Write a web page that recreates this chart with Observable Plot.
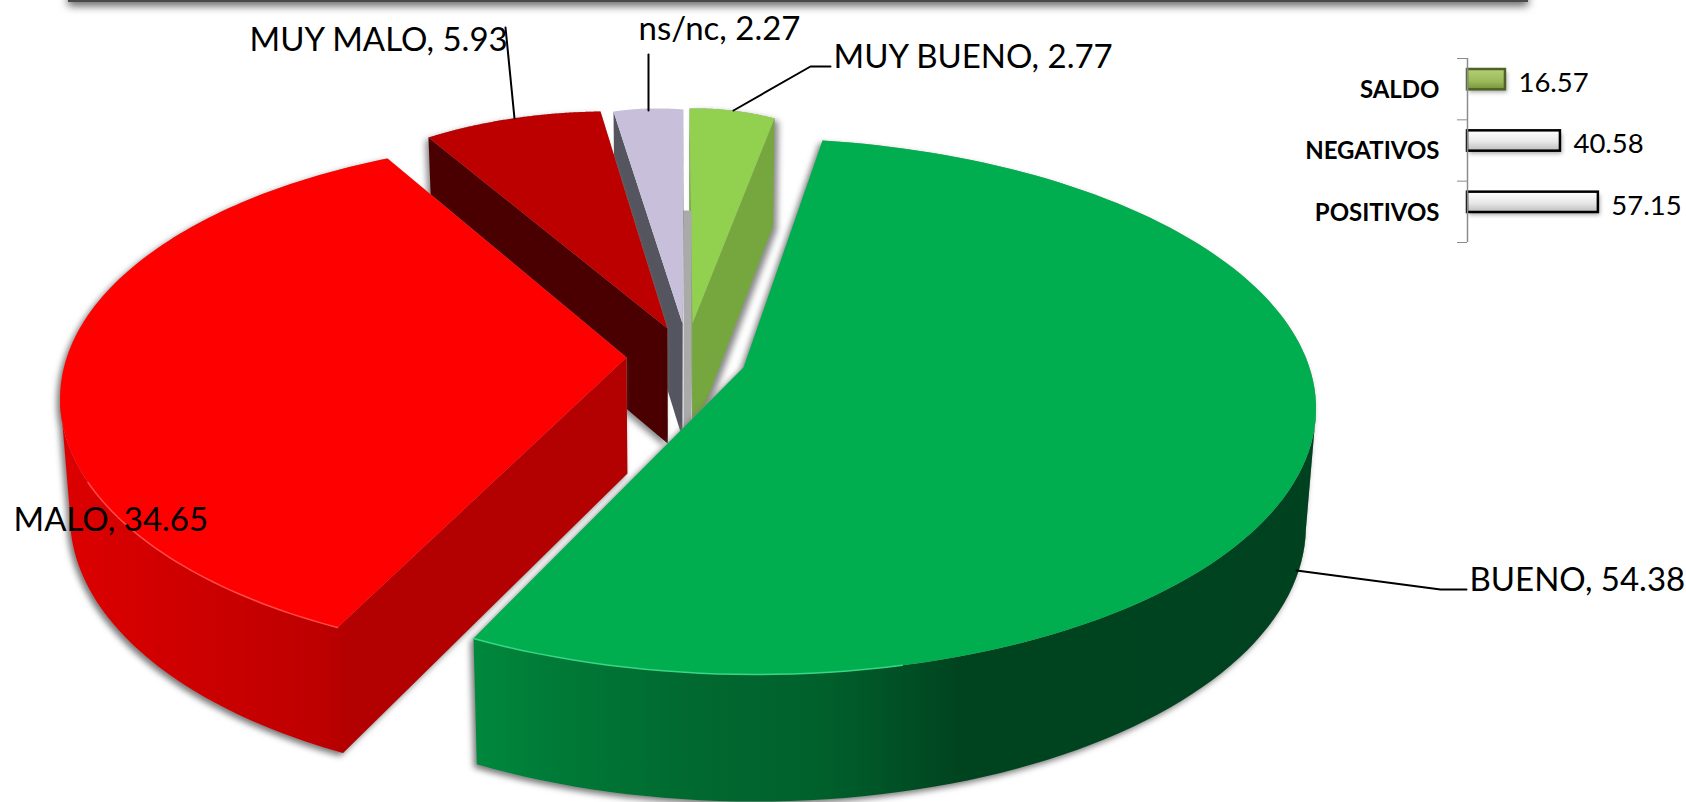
<!DOCTYPE html>
<html><head><meta charset="utf-8">
<script src="https://cdn.jsdelivr.net/npm/d3@7"></script>
<script src="https://cdn.jsdelivr.net/npm/@observablehq/plot@0.6"></script>
<style>
html,body{margin:0;padding:0;background:#fff;overflow:hidden}
#wrap{position:relative;width:1686px;height:802px}
#wrap>svg,#wrap>div{position:absolute;left:0;top:0}
</style></head><body><div id="wrap"></div>
<script>
// ---- data
const sliceNames  = ["MUY BUENO","BUENO","MALO","MUY MALO","ns/nc"];
const sliceValues = [2.77,54.38,34.65,5.93,2.27];
const sliceTops   = ["#92D050","#00AE4F","#FF0000","#BC0000","#C8BFDA"];
const sliceSides  = ["#76A63E","url(#gBueno)","url(#gMalo)","#4A0000","#55555F"];
const saldoNames  = ["SALDO","NEGATIVOS","POSITIVOS"];
const saldoValues = [16.57,40.58,57.15];

// ---- projection: each exploded slice has its own disc -> screen homography,
//      calibrated on the apex and on three points of the rim
const startAngle = -5;
const rad=d=>d*Math.PI/180;
const angScale=[1,1,.976,1,1];
const apexes=[[692,323],[743,367],[626,357],[667,328],[682,323]];
const rimPoints=[
  [[689,108],[731,110],[774,118]],
  [[822,140],[1314,388],[473,638]],
  [[337,627],[65,361],[387,158]],
  [[428,137],[512,118],[600,111]],
  [[613,111],[648,108],[683,109]]
];
function solve(A,b){const n=b.length;A=A.map((r,i)=>[...r,b[i]]);
  for(let i=0;i<n;i++){let p=i;for(let k=i+1;k<n;k++)if(Math.abs(A[k][i])>Math.abs(A[p][i]))p=k;
    [A[i],A[p]]=[A[p],A[i]];
    for(let k=0;k<n;k++)if(k!==i){const f=A[k][i]/A[i][i];for(let j=i;j<=n;j++)A[k][j]-=f*A[i][j];}}
  return A.map((r,i)=>r[n]/r[i]);}
function homography(pairs){const M=[],V=[];
  for(const [X,Y,x,y] of pairs){M.push([X,Y,1,0,0,0,-x*X,-x*Y]);V.push(x);M.push([0,0,0,X,Y,1,-y*X,-y*Y]);V.push(y);}
  const H=solve(M,V);
  return (X,Y)=>{const w=H[6]*X+H[7]*Y+1;return [(H[0]*X+H[1]*Y+H[2])/w,(H[3]*X+H[4]*Y+H[5])/w];};}
// extrusion of the pie downward, slightly converging
const drop=([x,y])=>[x+(680-x)*0.016,y+116+(y-357)*0.035];

// ---- slices from values
const total=d3.sum(sliceValues);
let acc=startAngle;
const slices=sliceValues.map((v,i)=>{
  const a0=acc,span=v/total*360*angScale[i];acc+=v/total*360;
  const a=t=>rad(a0+span*t);
  const ts=[0,i===1?.4335:.5,1];
  const H=homography([[0,0,...apexes[i]],...rimPoints[i].map((p,k)=>[Math.sin(a(ts[k])),Math.cos(a(ts[k])),...p])]);
  const arc=d3.range(0,121).map(k=>H(Math.sin(a(k/120)),Math.cos(a(k/120))));
  const ap=H(0,0);
  const loop=[ap,...arc,ap];
  const top=[ap,...arc];
  const runs=[];let cur=null;
  for(let k=0;k<loop.length-1;k++){
    if(loop[k+1][0]<loop[k][0]){if(!cur){cur=[loop[k]];runs.push(cur);}cur.push(loop[k+1]);}
    else cur=null;}
  return {i,top,runs,arc};
});
const rows=(pts,id)=>pts.map(([x,y])=>({x,y,id}));
const quad=run=>[...run,...run.slice().reverse().map(drop)];
const order=[0,4,3,2,1];
const marks=[];
const shadow=(s,filter)=>{
  const d=[...rows(s.top.map(drop),"a"),...rows(s.top,"b"),...s.runs.flatMap((r,k)=>rows(quad(r),"w"+k))];
  return Plot.line(d,{x:"x",y:"y",z:"id",fill:"#999",stroke:"none",curve:"linear",imageFilter:filter});
};
const shadows={0:"drop-shadow(4px 3px 3px #888)",1:"drop-shadow(-3px 3px 3px #777)",2:"drop-shadow(-3px 3px 3px #777)",3:"drop-shadow(-3px 3px 3px #888)"};
// thin lit edge along the front of the top face
const litEdge={1:[.8,1,"#3AD585"],2:[0,.3,"#FF4A4A"]};
marks.push(()=>{const s=d3.create("svg:defs").html(`
<linearGradient id="gBueno" gradientUnits="userSpaceOnUse" x1="470" x2="1310" y1="0" y2="0">
 <stop offset="0" stop-color="#00893D"/><stop offset=".1" stop-color="#007A37"/><stop offset=".25" stop-color="#006A30"/><stop offset=".42" stop-color="#00602C"/><stop offset=".58" stop-color="#00441F"/><stop offset="1" stop-color="#004220"/></linearGradient>
<linearGradient id="gMalo" gradientUnits="userSpaceOnUse" x1="60" x2="640" y1="0" y2="0">
 <stop offset="0" stop-color="#DD0000"/><stop offset=".24" stop-color="#CC0000"/><stop offset=".44" stop-color="#BE0000"/><stop offset=".5" stop-color="#B30000"/><stop offset="1" stop-color="#B30000"/></linearGradient>
<linearGradient id="gSilver" x1="0" x2="0" y1="0" y2="1"><stop offset="0" stop-color="#fff"/><stop offset=".55" stop-color="#e8e8e8"/><stop offset="1" stop-color="#bdbdbd"/></linearGradient>
<linearGradient id="gOlive" x1="0" x2="0" y1="0" y2="1"><stop offset="0" stop-color="#B5CF78"/><stop offset=".6" stop-color="#9BBB59"/><stop offset="1" stop-color="#76923C"/></linearGradient>
`);return s.node();});
marks.push(Plot.rect([1],{x1:()=>68,x2:()=>1528,y1:()=>-10,y2:()=>2,fill:"#4a4a4a",imageFilter:"drop-shadow(0 4px 4px #666)"}));
for(const i of order){
  const s=slices[i];
  if(shadows[i]) marks.push(shadow(s,shadows[i]));
  if(i===4){ // cast shadow between ns/nc and MUY BUENO
    const [ax,ay]=apexes[0];
    marks.push(Plot.line(rows([[ax-9,ay-113],[ax-1,ay-113],[ax-1,ay+97],[ax-9,ay+105]],"c"),{x:"x",y:"y",fill:"#AAAAAA",stroke:"none",curve:"linear"}));
  }
  for(const r of s.runs) marks.push(Plot.line(rows(quad(r),"w"),{x:"x",y:"y",fill:sliceSides[i],stroke:"none",curve:"linear"}));
  marks.push(Plot.line(rows(s.top,"t"),{x:"x",y:"y",fill:sliceTops[i],stroke:"none",curve:"linear"}));
  if(litEdge[i]){const [t0,t1,c]=litEdge[i];
    marks.push(Plot.line(rows(s.arc.slice(Math.round(t0*120),Math.round(t1*120)+1),"e"),{x:"x",y:"y",stroke:c,strokeWidth:1.5,curve:"linear"}));}
}
const labelText=i=>`${sliceNames[i]}, ${sliceValues[i].toFixed(2)}`;
const labelAt={0:[833,57],1:[1469,580],2:[13,520],3:[249,40],4:[638,29]};
const leaders=[
 [[505,27],[514,118]],
 [[648,54],[648,110]],
 [[830,66],[810,66],[733,110]],
 [[1466,589],[1440,589],[1296,570]]
];
leaders.forEach(l=>marks.push(Plot.line(l.map(([x,y])=>({x,y})),{x:"x",y:"y",stroke:"#000",strokeWidth:2,curve:"linear"})));
marks.push(Plot.text(sliceNames.map((n,i)=>i),{x:i=>labelAt[i][0],y:i=>labelAt[i][1],text:labelText,textAnchor:"start",fontSize:33,fill:"#000",fontFamily:"Lato"}));

const pie=Plot.plot({width:1686,height:802,margin:0,x:{domain:[0,1686],axis:null},y:{domain:[802,0],axis:null},style:{background:"transparent",overflow:"hidden"},marks});
document.getElementById("wrap").appendChild(pie);

// ---- inset bar chart
const rowsB=saldoNames.map((name,i)=>({name,value:saldoValues[i],i}));
const barOpts={x1:0,x2:"value",y1:"i",y2:d=>d.i+1,insetTop:11,insetBottom:30};
const inset=Plot.plot({width:1686,height:802,marginTop:58,marginBottom:802-242,marginLeft:1467,marginRight:0,
 x:{domain:[0,(1686-1467)/2.29],range:[1467,1686],axis:null},y:{domain:[0,3],reverse:true,axis:null},style:{background:"transparent"},
 marks:[
  Plot.rectX(rowsB,{...barOpts,fill:"#bbb",imageFilter:"drop-shadow(2px 3px 2px #aaa)"}),
  Plot.rectX(rowsB,{...barOpts,filter:d=>d.i===0,fill:"url(#gOlive)",stroke:"#4F6228",strokeWidth:2.5}),
  Plot.rectX(rowsB,{...barOpts,filter:d=>d.i>0,fill:"url(#gSilver)",stroke:"#000",strokeWidth:2.5}),
  Plot.ruleX([0],{stroke:"#8c8c8c",strokeWidth:1.5}),
  Plot.axisY({ticks:[0,1,2,3],tickSize:10,tickFormat:()=>"",stroke:"#8c8c8c",anchor:"left",label:null}),
  Plot.axisY({ticks:[.5,1.5,2.5],tickSize:0,tickPadding:28,tickFormat:d=>saldoNames[d-.5],anchor:"left",fontSize:24,fontWeight:"bold",fontFamily:"Lato",fill:"#000",label:null,dy:1}),
  Plot.text(rowsB,{x:"value",y:d=>d.i+.5,text:d=>d.value.toFixed(2),dx:13,dy:-6,textAnchor:"start",fontSize:27.5,fontFamily:"Lato",fill:"#000"})
 ]});
document.getElementById("wrap").appendChild(inset);
</script></body></html>
